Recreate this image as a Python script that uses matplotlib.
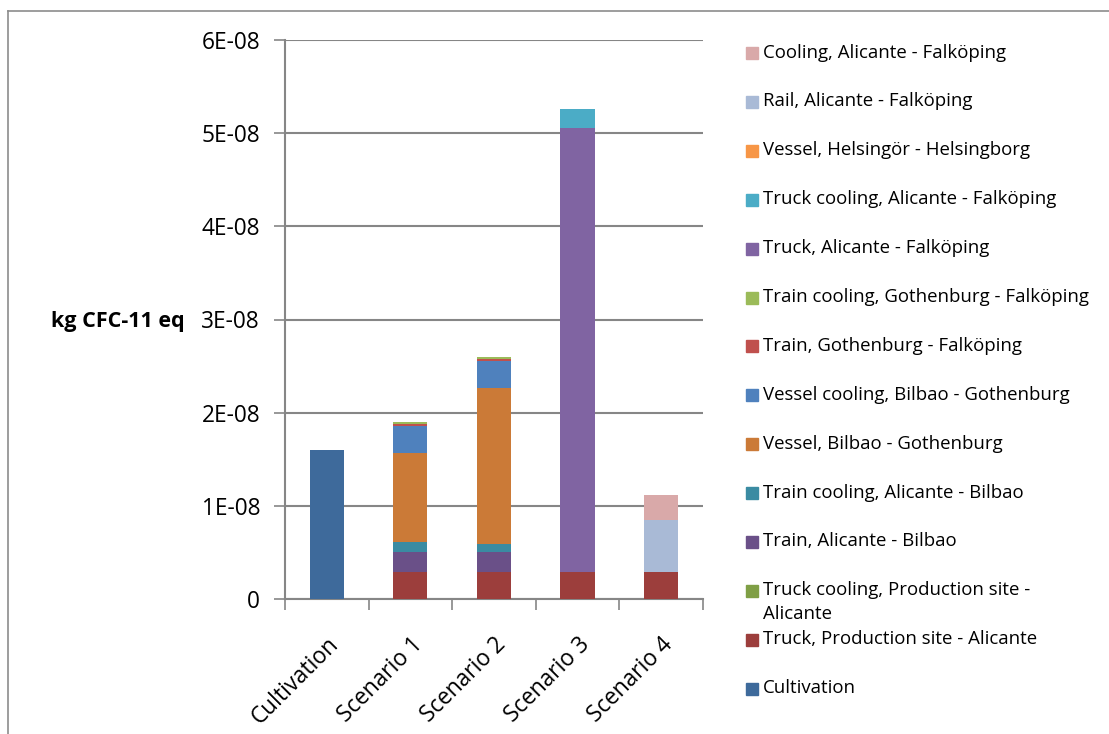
import matplotlib
matplotlib.use("Agg")
import matplotlib.pyplot as plt
from matplotlib.patches import Rectangle
from matplotlib.lines import Line2D
from matplotlib.ticker import FuncFormatter, FixedLocator
import numpy as np

plt.rcParams["font.family"] = ["Open Sans", "DejaVu Sans"]

categories = ["Cultivation", "Scenario 1", "Scenario 2", "Scenario 3", "Scenario 4"]

# Stacked contributions, bottom to top (kg CFC-11 eq)
cultivation          = [1.60e-8, 0, 0, 0, 0]
truck_prod_alicante  = [0, 2.86e-9, 2.86e-9, 2.86e-9, 2.86e-9]
truck_cool_prod      = [0, 4e-11, 4e-11, 4e-11, 4e-11]
train_alicante_bilb  = [0, 2.10e-9, 2.10e-9, 0, 0]
train_cool_ali_bilb  = [0, 1.07e-9, 0.93e-9, 0, 0]
vessel_bilb_goth     = [0, 9.55e-9, 1.674e-8, 0, 0]
vessel_cool_bilb     = [0, 2.97e-9, 2.90e-9, 0, 0]
train_goth_falk      = [0, 1.8e-10, 1.8e-10, 0, 0]
train_cool_goth      = [0, 2.0e-10, 2.0e-10, 0, 0]
truck_ali_falk       = [0, 0, 0, 4.77e-8, 0]
truck_cool_ali_falk  = [0, 0, 0, 1.97e-9, 0]
vessel_helsingor     = [0, 0, 0, 5e-11, 0]
rail_ali_falk        = [0, 0, 0, 0, 5.62e-9]
cooling_ali_falk     = [0, 0, 0, 0, 2.68e-9]

series = [
    ("Cultivation", cultivation, "#3E6A9B"),
    ("Truck, Production site - Alicante", truck_prod_alicante, "#9C3E3C"),
    ("Truck cooling, Production site -\nAlicante", truck_cool_prod, "#7F9F45"),
    ("Train, Alicante - Bilbao", train_alicante_bilb, "#6A5088"),
    ("Train cooling, Alicante - Bilbao", train_cool_ali_bilb, "#3A8BA2"),
    ("Vessel, Bilbao - Gothenburg", vessel_bilb_goth, "#CB7A37"),
    ("Vessel cooling, Bilbao - Gothenburg", vessel_cool_bilb, "#4F81BD"),
    ("Train, Gothenburg - Falköping", train_goth_falk, "#C0504D"),
    ("Train cooling, Gothenburg - Falköping", train_cool_goth, "#9BBB59"),
    ("Truck, Alicante - Falköping", truck_ali_falk, "#8064A2"),
    ("Truck cooling, Alicante - Falköping", truck_cool_ali_falk, "#4BACC6"),
    ("Vessel, Helsingör - Helsingborg", vessel_helsingor, "#F79646"),
    ("Rail, Alicante - Falköping", rail_ali_falk, "#A9BAD6"),
    ("Cooling, Alicante - Falköping", cooling_ali_falk, "#D9A9A9"),
]

W, H = 1109, 734
fig = plt.figure(figsize=(W / 100, H / 100), dpi=100)
ax = fig.add_axes([285 / W, 1 - 599 / H, (702.7 - 285) / W, (599 - 40) / H])

x = np.arange(len(categories))
bottom = np.zeros(len(categories))
for name, vals, color in series:
    v = np.array(vals, dtype=float)
    ax.bar(x, v, width=0.41, bottom=bottom, color=color, linewidth=0, zorder=3)
    bottom += v

grid_c = "#868686"
ax.set_xlim(-0.5, len(categories) - 0.5)
ax.set_ylim(0, 6e-8)
ax.set_yticks(np.arange(0, 6.01e-8, 1e-8))
ax.yaxis.set_major_formatter(FuncFormatter(
    lambda v, p: "0" if abs(v) < 1e-12 else f"{v:.0E}"))
ax.grid(axis="y", color=grid_c, linewidth=1.5, zorder=0)
ax.tick_params(axis="y", length=8, width=1.2, color=grid_c, labelsize=16.3, pad=10)

ax.set_xticks(x)
ax.set_xticklabels(categories, rotation=45, ha="right", va="top",
                   rotation_mode="anchor", fontsize=16.3)
ax.tick_params(axis="x", which="major", length=0, pad=24)
ax.xaxis.set_minor_locator(FixedLocator(np.arange(-0.5, len(categories), 1.0)))
ax.tick_params(axis="x", which="minor", length=8, width=1.2, color=grid_c)

for s in ["top", "right"]:
    ax.spines[s].set_visible(False)
for s in ["left", "bottom"]:
    ax.spines[s].set_color(grid_c)
    ax.spines[s].set_linewidth(1.5)

fig.text(185 / W, 1 - 322 / H, "kg CFC-11 eq", ha="right", va="center",
         fontsize=15.5, fontweight="bold")

# Legend, last series on top
y0, step = 53, 48.9
for i, (name, vals, color) in enumerate(reversed(series)):
    yc = y0 + i * step
    fig.patches.append(Rectangle((746 / W, 1 - (yc + 6) / H), 12 / W, 12 / H,
                                 transform=fig.transFigure, color=color))
    fig.text(763 / W, 1 - (yc - 9.5) / H, name, ha="left", va="top",
             fontsize=13.4, linespacing=1.4)

# Chart frame (left and top edges)
fig.add_artist(Line2D([8 / W, 8 / W], [0, 1 - 10.5 / H], color="#8C8C8C",
                      linewidth=1.2, transform=fig.transFigure))
fig.add_artist(Line2D([8 / W, 1], [1 - 10.5 / H, 1 - 10.5 / H], color="#8C8C8C",
                      linewidth=1.2, transform=fig.transFigure))

fig.savefig("out.png", dpi=100)
